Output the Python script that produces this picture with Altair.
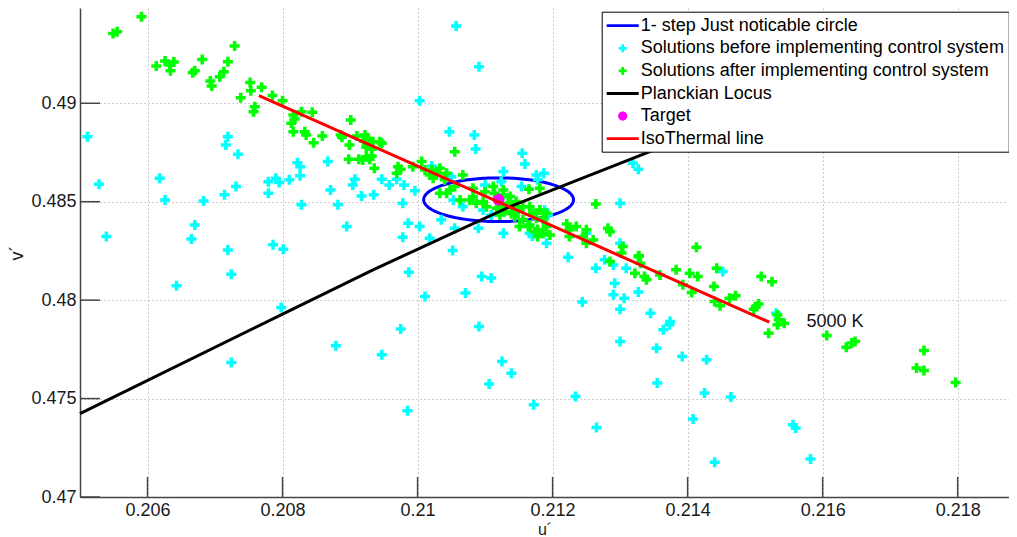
import altair as alt
import numpy as np
import pandas as pd

SERIES = ["1- step Just noticable circle",
          "Solutions before implementing control system",
          "Solutions after implementing control system",
          "Planckian Locus", "Target", "IsoThermal line"]
COLORS = ["#0000ff", "#00ffff", "#00ff00", "#000000", "#ff00ff", "#ff0000"]

X_TICKS = [0.206, 0.208, 0.21, 0.212, 0.214, 0.216, 0.218]
Y_TICKS = [0.47, 0.475, 0.48, 0.485, 0.49]

before_u = [
    0.20511, 0.20528, 0.20539, 0.20618, 0.20626, 0.20670, 0.20665, 0.20683, 0.20716, 0.20719,
    0.20734, 0.20714, 0.20731, 0.20719, 0.20779, 0.20779, 0.20790, 0.20795, 0.20786, 0.20801,
    0.20810, 0.20822, 0.20826, 0.20826, 0.20828, 0.20867, 0.20871, 0.20882, 0.20643, 0.20724,
    0.20798, 0.20724, 0.20879, 0.20907, 0.20904, 0.20917, 0.20935, 0.20947, 0.20958, 0.20969,
    0.20980, 0.20978, 0.20996, 0.21021, 0.20895, 0.20986, 0.21003, 0.21003, 0.21057, 0.21091,
    0.21047, 0.21084, 0.21086, 0.21155, 0.21159, 0.21127, 0.21176, 0.21187, 0.21319, 0.21327,
    0.21300, 0.21035, 0.21055, 0.20978, 0.21018, 0.21052, 0.21127, 0.21166, 0.21170, 0.21191,
    0.21223, 0.21250, 0.21277, 0.21300, 0.21050, 0.21100, 0.21124, 0.21154, 0.21178, 0.21053,
    0.21067, 0.21097, 0.21109, 0.21188, 0.21193, 0.21090, 0.21290, 0.21309, 0.21452, 0.21292,
    0.21531, 0.21364, 0.21374, 0.21373, 0.21392, 0.21428, 0.21425, 0.21464, 0.21408, 0.21440,
    0.21556, 0.21560, 0.21582, 0.20987, 0.21095, 0.21109, 0.21011, 0.21071, 0.20975, 0.21091,
    0.20947, 0.21125, 0.21139, 0.21106, 0.20985, 0.21172, 0.21234, 0.21265, 0.21264, 0.21244,
    0.21290, 0.21306, 0.21300, 0.21327, 0.21345, 0.21300, 0.21354, 0.21355,
]
before_v = [
    0.48830, 0.48589, 0.48323, 0.48619, 0.48509, 0.48382, 0.48311, 0.48504, 0.48788, 0.48830,
    0.48741, 0.48535, 0.48577, 0.48255, 0.48602, 0.48543, 0.48619, 0.48597, 0.48281, 0.48259,
    0.48611, 0.48698, 0.48678, 0.48632, 0.48484, 0.48704, 0.48560, 0.48484, 0.48073, 0.48132,
    0.47962, 0.47683, 0.47768, 0.48614, 0.48585, 0.48529, 0.48535, 0.48614, 0.48585, 0.48614,
    0.48585, 0.48492, 0.48556, 0.48682, 0.48374, 0.48391, 0.48374, 0.49013, 0.49392, 0.49186,
    0.48856, 0.48839, 0.48768, 0.48746, 0.48692, 0.48653, 0.48636, 0.48645, 0.48695, 0.48665,
    0.48492, 0.48408, 0.48365, 0.48320, 0.48315, 0.48252, 0.48340, 0.48340, 0.48326, 0.48289,
    0.48218, 0.48340, 0.48205, 0.48289, 0.48627, 0.48585, 0.48602, 0.48577, 0.48611, 0.48509,
    0.48475, 0.48458, 0.48433, 0.48458, 0.48433, 0.48365, 0.48179, 0.48162, 0.48145, 0.48086,
    0.47934, 0.47849, 0.47891, 0.47875, 0.47714, 0.47697, 0.47528, 0.47508, 0.47396, 0.47176,
    0.47367, 0.47350, 0.47193, 0.48142, 0.48120, 0.48112, 0.48018, 0.48036, 0.47854, 0.47866,
    0.47722, 0.47688, 0.47629, 0.47574, 0.47438, 0.47469, 0.47511, 0.47353, 0.48162, 0.47990,
    0.48027, 0.48010, 0.47954, 0.48041, 0.47934, 0.47790, 0.47756, 0.47579,
]

after_u = [
    0.20549, 0.20555, 0.20591, 0.20613, 0.20626, 0.20633, 0.20639, 0.20634, 0.20667, 0.20670,
    0.20681, 0.20693, 0.20695, 0.20707, 0.20713, 0.20719, 0.20729, 0.20752, 0.20753, 0.20738,
    0.20759, 0.20757, 0.20769, 0.20785, 0.20800, 0.20816, 0.20813, 0.20818, 0.20828, 0.20816,
    0.20833, 0.20835, 0.20844, 0.20846, 0.20859, 0.20901, 0.20886, 0.20888, 0.20899, 0.20898,
    0.20913, 0.20910, 0.20922, 0.20926, 0.20920, 0.20929, 0.20924, 0.20932, 0.20934, 0.20944,
    0.20947, 0.20924, 0.20932, 0.20919, 0.20929, 0.20936, 0.20971, 0.20975, 0.20969, 0.20993,
    0.21006, 0.21011, 0.21018, 0.21023, 0.21028, 0.21021, 0.21055, 0.21033, 0.21043, 0.21040,
    0.21067, 0.21055, 0.21043, 0.21048, 0.21077, 0.21082, 0.21087, 0.21097, 0.21102, 0.21114,
    0.21127, 0.21137, 0.21134, 0.21124, 0.21117, 0.21141, 0.21146, 0.21129, 0.21139, 0.21149,
    0.21156, 0.21144, 0.21122, 0.21165, 0.21181, 0.21166, 0.21171, 0.21176, 0.21181, 0.21186,
    0.21191, 0.21164, 0.21178, 0.21186, 0.21264, 0.21221, 0.21225, 0.21235, 0.21250, 0.21260,
    0.21250, 0.21245, 0.21282, 0.21285, 0.21304, 0.21302, 0.21327, 0.21033, 0.21063, 0.21082,
    0.21100, 0.21112, 0.21127, 0.21151, 0.21166, 0.21174, 0.21191, 0.21178, 0.21196, 0.21156,
    0.21225, 0.21413, 0.21328, 0.21330, 0.21285, 0.21322, 0.21336, 0.21339, 0.21359, 0.21383,
    0.21403, 0.21415, 0.21443, 0.21439, 0.21509, 0.21525, 0.21393, 0.21406, 0.21440, 0.21448,
    0.21462, 0.21471, 0.21501, 0.21505, 0.21498, 0.21533, 0.21535, 0.21543, 0.21533, 0.21520,
    0.21606, 0.21635, 0.21643, 0.21648, 0.21750, 0.21739, 0.21750, 0.21797,
]
after_v = [
    0.49355, 0.49363, 0.49440, 0.49189, 0.49215, 0.49194, 0.49210, 0.49165, 0.49155, 0.49165,
    0.49223, 0.49113, 0.49088, 0.49135, 0.49160, 0.49211, 0.49291, 0.49105, 0.49064, 0.49028,
    0.48983, 0.48957, 0.49081, 0.49039, 0.49013, 0.48941, 0.48898, 0.48920, 0.48957, 0.48856,
    0.48856, 0.48839, 0.48954, 0.48800, 0.48834, 0.48915, 0.48839, 0.48827, 0.48788, 0.48716,
    0.48716, 0.48834, 0.48839, 0.48822, 0.48809, 0.48788, 0.48777, 0.48766, 0.48805, 0.48805,
    0.48797, 0.48729, 0.48732, 0.48712, 0.48716, 0.48670, 0.48678, 0.48665, 0.48645, 0.48678,
    0.48704, 0.48661, 0.48636, 0.48619, 0.48645, 0.48661, 0.48754, 0.48670, 0.48645, 0.48611,
    0.48636, 0.48577, 0.48543, 0.48560, 0.48509, 0.48526, 0.48492, 0.48501, 0.48475, 0.48543,
    0.48535, 0.48526, 0.48492, 0.48475, 0.48467, 0.48475, 0.48501, 0.48450, 0.48442, 0.48458,
    0.48475, 0.48424, 0.48433, 0.48563, 0.48569, 0.48475, 0.48442, 0.48416, 0.48458, 0.48408,
    0.48442, 0.48374, 0.48357, 0.48340, 0.48489, 0.48387, 0.48357, 0.48374, 0.48357, 0.48306,
    0.48289, 0.48323, 0.48365, 0.48348, 0.48272, 0.48239, 0.48221, 0.48543, 0.48509, 0.48569,
    0.48551, 0.48577, 0.48560, 0.48374, 0.48382, 0.48348, 0.48374, 0.48323, 0.48331, 0.48408,
    0.48323, 0.48269, 0.48225, 0.48188, 0.48196, 0.48137, 0.48120, 0.48103, 0.48128, 0.48154,
    0.48137, 0.48120, 0.48162, 0.48069, 0.48120, 0.48094, 0.48078, 0.48039, 0.47993, 0.47971,
    0.48010, 0.48022, 0.47968, 0.47981, 0.47954, 0.47925, 0.47900, 0.47883, 0.47875, 0.47832,
    0.47820, 0.47761, 0.47782, 0.47790, 0.47744, 0.47655, 0.47643, 0.47582,
]

target_u = [0.2112]
target_v = [0.4851]

locus_u = [0.20500, 0.20800, 0.20934, 0.21137, 0.21344, 0.21500]
locus_v = [0.47424, 0.47929, 0.48154, 0.48475, 0.48754, 0.48945]

iso_u = [0.20765, 0.21521]
iso_v = [0.49039, 0.47888]

circle_radius = 0.00111
label_text = ["5000 K"]
label_u = [0.21576]
label_v = [0.47888]

# symbol paths (unit paths scaled by sqrt(size)/2)
LINE_SYM = "M-1.6,-0.14H1.6V0.14H-1.6Z"
CROSS_SYM = "M-0.4,-0.14H-0.14V-0.4H0.14V-0.14H0.4V0.14H0.14V0.4H-0.14V0.14H-0.4Z"
DOT_SYM = "M-0.46,0A0.46,0.46,0,1,0,0.46,0A0.46,0.46,0,1,0,-0.46,0Z"
SHAPES = [LINE_SYM, CROSS_SYM, CROSS_SYM, LINE_SYM, DOT_SYM, LINE_SYM]

W, H = 929, 489
FONT = "Liberation Sans"

XS = alt.Scale(domain=[0.205, 0.21876], nice=False, zero=False)
YS = alt.Scale(domain=[0.47, 0.49484], nice=False, zero=False)

XAX = alt.Axis(values=X_TICKS, format="~g", ticks=False, labelFontSize=18, labelColor="#1a1a1a",
               labelPadding=4, labelFlush=False, labelOverlap=False,
               domainColor="#444444", domainWidth=1.5,
               grid=True, gridColor="#bdbdbd", gridDash=[1.5, 2.5], gridWidth=1,
               title="u´", titleFontSize=16, titleFontWeight="normal", titleColor="#1a1a1a",
               titleY=37, titleBaseline="alphabetic")
YAX = alt.Axis(values=Y_TICKS, format="~g", ticks=False, labelFontSize=18, labelColor="#1a1a1a",
               labelPadding=4, labelFlush=False, labelOverlap=False,
               domainColor="#444444", domainWidth=1.5,
               grid=True, gridColor="#bdbdbd", gridDash=[1.5, 2.5], gridWidth=1,
               title="v´", titleFontSize=18, titleFontWeight="normal", titleColor="#1a1a1a",
               titleX=-63, titleY=H / 2, titleAngle=270, titleAlign="center",
               titleBaseline="middle")

X = alt.X("u:Q", scale=XS, axis=XAX)
Y = alt.Y("v:Q", scale=YS, axis=YAX)

LEG = alt.Legend(title=None, orient="none", legendX=521.7, legendY=3.7, padding=4,
                 symbolSize=400, symbolOffset=7, labelOffset=8, rowPadding=3.6,
                 labelFontSize=18, labelColor="#000000", labelLimit=700, labelFont=FONT,
                 strokeColor="#000000", fillColor="#ffffff", symbolStrokeWidth=0,
                 cornerRadius=0)
COLOR = alt.Color("series:N", scale=alt.Scale(domain=SERIES, range=COLORS), legend=LEG)
SHAPE = alt.Shape("series:N", scale=alt.Scale(domain=SERIES, range=SHAPES), legend=LEG)

pts = pd.concat([
    pd.DataFrame({"u": before_u, "v": before_v, "series": SERIES[1]}),
    pd.DataFrame({"u": after_u, "v": after_v, "series": SERIES[2]}),
], ignore_index=True)
tgt = pd.DataFrame({"u": target_u, "v": target_v, "series": SERIES[4]})

theta = np.linspace(0, 2 * np.pi, 181)
circ = pd.DataFrame({"u": target_u[0] + circle_radius * np.cos(theta),
                     "v": target_v[0] + circle_radius * np.sin(theta),
                     "i": np.arange(len(theta))})
locus = pd.DataFrame({"u": locus_u, "v": locus_v, "i": range(len(locus_u))})
iso = pd.DataFrame({"u": iso_u, "v": iso_v, "i": range(len(iso_u))})
lab = pd.DataFrame({"u": label_u, "v": label_v, "t": label_text})

circle_layer = alt.Chart(circ).mark_line(color="#0000ff", strokeWidth=3).encode(x=X, y=Y, order="i:Q")
points_layer = alt.Chart(pts).mark_point(filled=True, opacity=1, size=625, strokeWidth=0).encode(
    x=X, y=Y, color=COLOR, shape=SHAPE)
locus_layer = alt.Chart(locus).mark_line(color="#000000", strokeWidth=3).encode(x=X, y=Y, order="i:Q")
target_layer = alt.Chart(tgt).mark_point(filled=True, opacity=1, size=625, strokeWidth=0).encode(
    x=X, y=Y, color=COLOR, shape=SHAPE)
iso_layer = alt.Chart(iso).mark_line(color="#ff0000", strokeWidth=3).encode(x=X, y=Y, order="i:Q")
text_layer = alt.Chart(lab).mark_text(align="left", baseline="middle", fontSize=18,
                                      color="#111111", font=FONT).encode(x=X, y=Y, text="t:N")

xt = pd.DataFrame({"u": X_TICKS})
yt = pd.DataFrame({"v": Y_TICKS})
xtick_layer = alt.Chart(xt).mark_rule(color="#444444", strokeWidth=1.5).encode(
    x=X, y=alt.value(H), y2=alt.value(H - 20))
ytick_layer = alt.Chart(yt).mark_rule(color="#444444", strokeWidth=1.5).encode(
    y=Y, x=alt.value(0), x2=alt.value(20))

chart = alt.layer(
    circle_layer, points_layer, locus_layer, target_layer, iso_layer, text_layer,
    xtick_layer, ytick_layer
).properties(
    width=W, height=H,
    autosize=alt.AutoSizeParams(type="none"),
    padding={"left": 72, "top": 0, "right": 0, "bottom": 40},
).configure(font=FONT).configure_view(stroke="transparent")

chart.save("out.html", embed_options={"renderer": "svg", "actions": False})
